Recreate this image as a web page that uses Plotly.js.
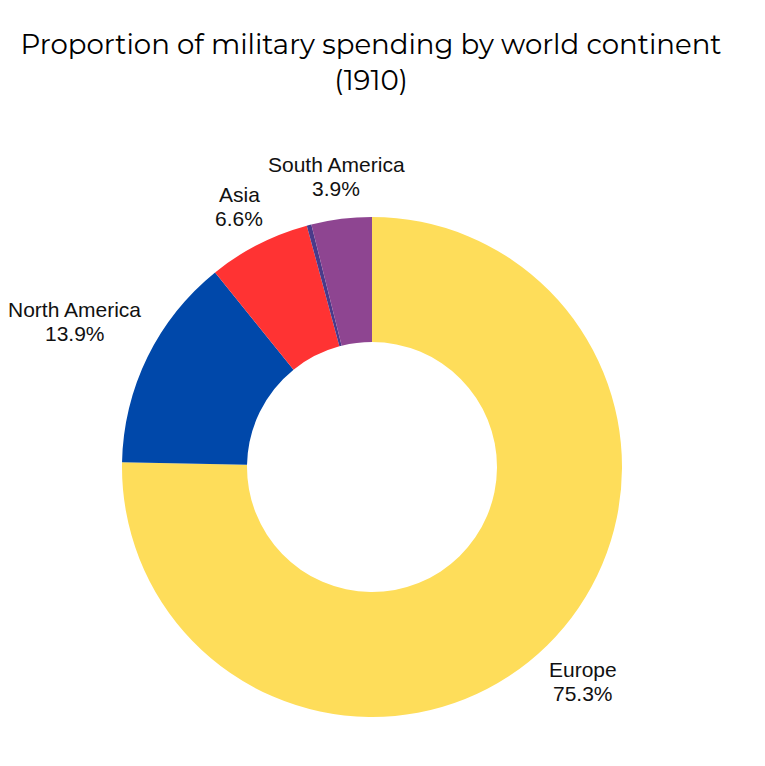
<!DOCTYPE html>
<html>
<head>
<meta charset="utf-8">
<script src="https://cdn.plot.ly/plotly-3.0.1.min.js"></script>
<style>html,body{margin:0;padding:0;background:#fff;}</style>
</head>
<body>
<div id="chart" style="width:765px;height:766px;"></div>
<script>
const continents = ["Europe", "North America", "Asia", "Oceania", "South America"];
const shares = [75.3, 13.9, 6.6, 0.3, 3.9];
const sliceColors = ["#fedd5a", "#0048aa", "#ff3333", "#4a3a8a", "#8e4591"];

const W = 765, H = 766;
const margin = {l: 122, r: 143, t: 217, b: 49};
const plotW = W - margin.l - margin.r;
const plotH = H - margin.t - margin.b;
const R = Math.min(plotW, plotH) / 2;
const labelFont = {family: "Liberation Sans, Arial, sans-serif", size: 21, color: "#111"};
const gap = 10, halfH = 24, lineShift = 12;

const ctx = document.createElement("canvas").getContext("2d");
ctx.font = labelFont.size + "px 'Liberation Sans', Arial, sans-serif";
const measure = s => ctx.measureText(s).width;

const total = shares.reduce((a, b) => a + b, 0);
const annotations = [];
let cum = 0;
shares.forEach((v, i) => {
  const mid = (cum + v / 2) / total * 2 * Math.PI;
  cum += v;
  if (v / total < 0.01) return;
  const ux = Math.sin(mid), uy = -Math.cos(mid);
  const line1 = continents[i];
  const line2 = (v / total * 100).toFixed(1) + "%";
  const w = Math.max(measure(line1), measure(line2));
  const d = R + gap + Math.abs(ux) * w / 2 + Math.abs(uy) * halfH;
  const px = 0.5 + ux * d / plotW;
  const py = 0.5 - uy * d / plotH;
  [[line1, lineShift], [line2, -lineShift]].forEach(([t, s]) => {
    annotations.push({
      x: px, y: py, xref: "paper", yref: "paper",
      text: t, showarrow: false, xanchor: "center", yanchor: "middle",
      yshift: s, font: labelFont
    });
  });
});

const data = [{
  type: "pie",
  labels: continents,
  values: shares,
  hole: 0.5,
  sort: false,
  direction: "clockwise",
  rotation: 0,
  marker: {colors: sliceColors, line: {width: 0}},
  textinfo: "none",
  textposition: "none",
  automargin: false,
  showlegend: false,
  hoverinfo: "label+percent",
  domain: {x: [0, 1], y: [0, 1]}
}];

const layout = {
  width: W,
  height: H,
  paper_bgcolor: "#fff",
  margin: margin,
  title: {
    text: "Proportion of military spending by world continent<br>(1910)",
    font: {family: "Montserrat, Lato, Open Sans, sans-serif", size: 27.6, color: "#000"},
    x: 0.485,
    xanchor: "center",
    y: 0.93,
    yanchor: "top"
  },
  annotations: annotations,
  showlegend: false
};

Plotly.newPlot("chart", data, layout, {displayModeBar: false, staticPlot: true});
</script>
</body>
</html>
